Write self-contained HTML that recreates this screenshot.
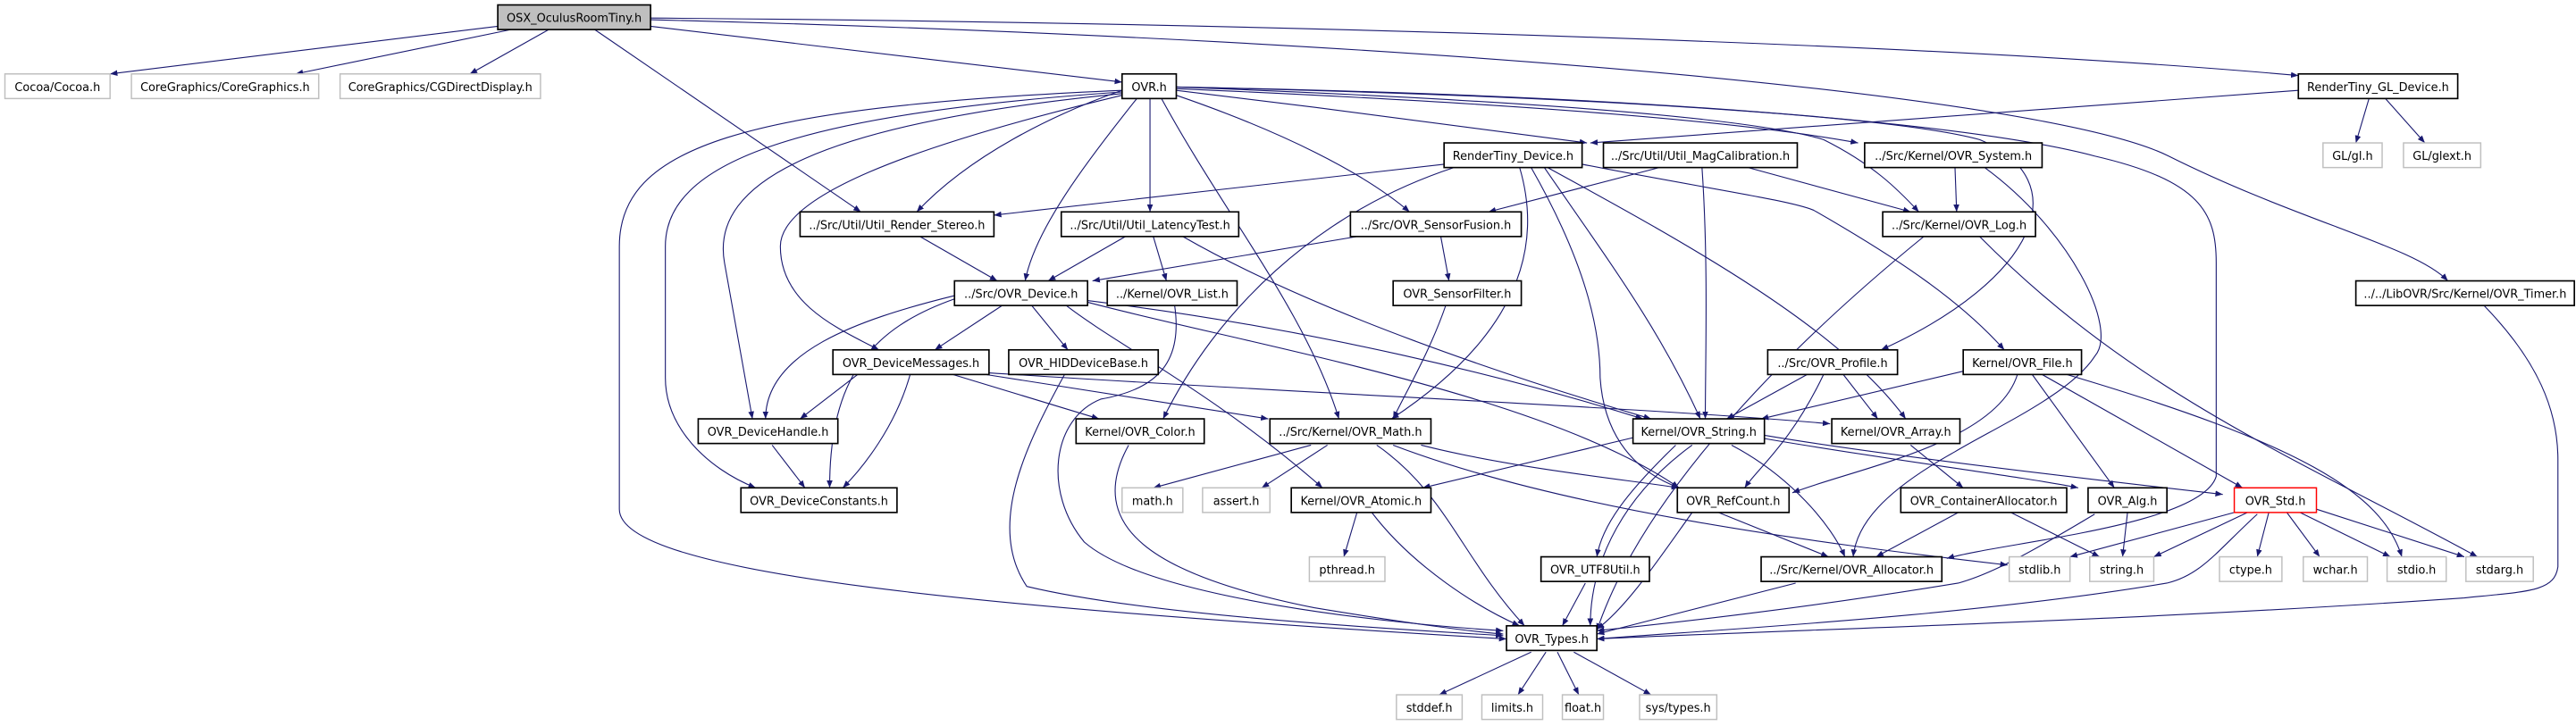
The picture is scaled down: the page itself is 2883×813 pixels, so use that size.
<!DOCTYPE html>
<html><head><meta charset="utf-8"><style>
html,body{margin:0;padding:0;background:#fff;}
svg{display:block;}
text{font-family:"DejaVu Sans","Liberation Sans",sans-serif;font-size:7px;fill:#000;}
.e{fill:none;stroke:#191970;stroke-width:0.6;}
.b{fill:#fff;stroke:#000;stroke-width:0.9;}
.g{fill:#fff;stroke:#bfbfbf;stroke-width:0.8;}
</style></head><body>
<svg width="2883" height="813" viewBox="0 0 1568 442" preserveAspectRatio="none" xmlns="http://www.w3.org/2000/svg">
<defs><marker id="a" markerUnits="userSpaceOnUse" markerWidth="7" markerHeight="7" refX="4.5" refY="1.8" orient="auto"><path d="M0,0 L4.5,1.8 L0,3.6 z" fill="#191970"/></marker></defs>
<g class="e" marker-end="url(#a)">
<path d="M303,16 L67,45"/>
<path d="M311,18 L180,45"/>
<path d="M334,18 L286,45"/>
<path d="M396,16 L683,50"/>
<path d="M396,11 C800,14 1200,28 1399,46"/>
<path d="M396,12 C900,25 1250,60 1320,95 C1400,135 1470,150 1490,171"/>
<path d="M362,18 L524,129"/>
<path d="M683,55 C640,70 590,95 558,129"/>
<path d="M692,60 C660,100 630,140 624,171"/>
<path d="M700,60 L700,129"/>
<path d="M707,60 C745,130 795,190 815,255"/>
<path d="M716,58 C780,80 830,105 858,129"/>
<path d="M716,55 C800,65 900,78 966,87"/>
<path d="M716,54 C900,62 1050,72 1131,87"/>
<path d="M716,53 C900,60 1060,70 1110,85 C1140,100 1155,115 1168,129"/>
<path d="M716,53 C950,58 1150,70 1205,85 C1265,110 1240,170 1145,213"/>
<path d="M716,53 C1000,58 1200,75 1275,95 C1340,110 1349,130 1349,160 L1349,290 C1340,320 1220,330 1185,340"/>
<path d="M683,55 C450,65 377,90 377,150 L377,310 C377,350 600,370 917,389"/>
<path d="M683,56 C480,70 405,100 405,150 L405,230 C405,260 430,285 460,297"/>
<path d="M683,57 C500,75 432,110 441,160 L458,255"/>
<path d="M683,58 C550,90 475,120 475,150 C475,185 510,200 535,213"/>
<path d="M1399,55 L968,87"/>
<path d="M1442,60 L1434,87"/>
<path d="M1452,60 L1476,87"/>
<path d="M879,100 L605,131"/>
<path d="M885,102 C800,130 740,190 708,255"/>
<path d="M925,102 C945,170 900,220 847,255"/>
<path d="M932,102 C965,160 974,200 974,230 C976,260 990,285 1022,297"/>
<path d="M940,102 C980,160 1010,200 1035,255"/>
<path d="M942,102 C1030,150 1120,200 1160,255"/>
<path d="M963,100 C1040,115 1090,122 1104,128 C1160,160 1195,185 1220,213"/>
<path d="M1010,102 L906,129"/>
<path d="M1036,102 C1040,160 1038,220 1038,255"/>
<path d="M1064,102 L1163,129"/>
<path d="M1190,102 L1191,129"/>
<path d="M1208,102 C1260,140 1290,200 1275,217 C1260,240 1215,260 1190,275 C1145,300 1130,320 1128,339"/>
<path d="M1171,144 C1090,210 1000,300 972,384"/>
<path d="M1205,144 C1300,240 1400,280 1508,339"/>
<path d="M1512,186 C1545,220 1557,250 1557,280 L1557,345 C1555,360 1540,360 1500,364 C1300,378 1100,383 972,389"/>
<path d="M560,144 L607,171"/>
<path d="M685,144 L638,171"/>
<path d="M702,144 L710,171"/>
<path d="M720,144 C800,190 920,230 1005,255"/>
<path d="M826,144 L665,171"/>
<path d="M877,144 L882,171"/>
<path d="M610,186 L569,213"/>
<path d="M628,186 L650,213"/>
<path d="M581,180 C520,195 466,215 466,255"/>
<path d="M581,182 C530,200 505,230 505,297"/>
<path d="M649,186 C680,210 740,240 805,297"/>
<path d="M662,184 C760,210 940,240 1022,297"/>
<path d="M662,183 C800,200 920,230 1000,255"/>
<path d="M522,228 L487,255"/>
<path d="M554,228 C545,260 525,285 513,297"/>
<path d="M580,228 L669,255"/>
<path d="M600,228 L772,255"/>
<path d="M602,227 C800,240 1000,248 1114,258"/>
<path d="M470,271 L490,297"/>
<path d="M648,228 C625,270 600,320 625,357 C700,375 850,383 915,387"/>
<path d="M715,186 C720,220 705,237 670,243 C640,255 635,300 660,330 C700,365 850,380 915,384"/>
<path d="M880,186 C870,215 855,240 848,255"/>
<path d="M687,271 C660,320 700,350 800,370 C860,380 900,385 915,386"/>
<path d="M798,271 L702,297"/>
<path d="M808,271 L768,297"/>
<path d="M838,271 C880,300 890,340 928,381"/>
<path d="M848,271 C950,310 1100,330 1222,344"/>
<path d="M865,271 C920,285 990,292 1022,297"/>
<path d="M826,312 L818,339"/>
<path d="M835,312 C860,345 900,370 925,381"/>
<path d="M996,266 L866,297"/>
<path d="M1020,271 C990,300 975,320 972,339"/>
<path d="M1030,271 C990,300 968,340 968,381"/>
<path d="M1074,267 C1150,280 1230,290 1265,297"/>
<path d="M1074,265 C1150,278 1300,295 1353,301"/>
<path d="M1054,271 C1090,290 1115,320 1123,339"/>
<path d="M1163,271 L1195,297"/>
<path d="M1100,228 L1051,255"/>
<path d="M1110,228 C1090,270 1070,285 1062,297"/>
<path d="M1122,228 L1143,255"/>
<path d="M1195,226 L1072,255"/>
<path d="M1228,228 C1215,270 1130,285 1091,300"/>
<path d="M1237,228 L1287,297"/>
<path d="M1243,228 L1365,297"/>
<path d="M1258,228 C1400,270 1450,300 1462,339"/>
<path d="M1046,312 L1113,339"/>
<path d="M1030,312 C1010,340 990,370 972,383"/>
<path d="M1192,312 L1142,339"/>
<path d="M1224,312 L1278,339"/>
<path d="M1295,312 L1292,339"/>
<path d="M1275,313 C1230,340 1210,350 1192,355 C1100,370 1030,378 972,384"/>
<path d="M1360,312 L1260,339"/>
<path d="M1368,312 L1311,339"/>
<path d="M1374,313 C1350,335 1340,350 1319,355 C1200,375 1050,383 972,389"/>
<path d="M1381,312 L1374,339"/>
<path d="M1392,312 L1412,339"/>
<path d="M1400,312 L1455,339"/>
<path d="M1410,310 L1500,339"/>
<path d="M1093,355 L972,386"/>
<path d="M965,355 L951,381"/>
<path d="M932,397 L876,423"/>
<path d="M941,397 L924,423"/>
<path d="M948,397 L961,423"/>
<path d="M958,397 L1005,423"/>
</g>
<g>
<rect x="303" y="3" width="93" height="15" fill="#bfbfbf" stroke="#000" stroke-width="0.9"/>
<text x="349.5" y="13.4" text-anchor="middle">OSX_OculusRoomTiny.h</text>
</g>
<g>
<rect class="g" x="3" y="45" width="64" height="15"/><text x="35" y="55.4" text-anchor="middle">Cocoa/Cocoa.h</text>
<rect class="g" x="80" y="45" width="114" height="15"/><text x="137" y="55.4" text-anchor="middle">CoreGraphics/CoreGraphics.h</text>
<rect class="g" x="207" y="45" width="122" height="15"/><text x="268" y="55.4" text-anchor="middle">CoreGraphics/CGDirectDisplay.h</text>
<rect class="b" x="683" y="45" width="33" height="15"/><text x="699.5" y="55.4" text-anchor="middle">OVR.h</text>
<rect class="b" x="1399" y="45" width="97" height="15"/><text x="1447.5" y="55.4" text-anchor="middle">RenderTiny_GL_Device.h</text>
<rect class="b" x="879" y="87" width="84" height="15"/><text x="921" y="97.4" text-anchor="middle">RenderTiny_Device.h</text>
<rect class="b" x="976" y="87" width="118" height="15"/><text x="1035" y="97.4" text-anchor="middle">../Src/Util/Util_MagCalibration.h</text>
<rect class="b" x="1135" y="87" width="108" height="15"/><text x="1189" y="97.4" text-anchor="middle">../Src/Kernel/OVR_System.h</text>
<rect class="g" x="1414" y="87" width="36" height="15"/><text x="1432" y="97.4" text-anchor="middle">GL/gl.h</text>
<rect class="g" x="1463" y="87" width="47" height="15"/><text x="1486.5" y="97.4" text-anchor="middle">GL/glext.h</text>
<rect class="b" x="487" y="129" width="118" height="15"/><text x="546" y="139.4" text-anchor="middle">../Src/Util/Util_Render_Stereo.h</text>
<rect class="b" x="646" y="129" width="108" height="15"/><text x="700" y="139.4" text-anchor="middle">../Src/Util/Util_LatencyTest.h</text>
<rect class="b" x="822" y="129" width="104" height="15"/><text x="874" y="139.4" text-anchor="middle">../Src/OVR_SensorFusion.h</text>
<rect class="b" x="1146" y="129" width="93" height="15"/><text x="1192.5" y="139.4" text-anchor="middle">../Src/Kernel/OVR_Log.h</text>
<rect class="b" x="581" y="171" width="81" height="15"/><text x="621.5" y="181.4" text-anchor="middle">../Src/OVR_Device.h</text>
<rect class="b" x="674" y="171" width="79" height="15"/><text x="713.5" y="181.4" text-anchor="middle">../Kernel/OVR_List.h</text>
<rect class="b" x="848" y="171" width="78" height="15"/><text x="887" y="181.4" text-anchor="middle">OVR_SensorFilter.h</text>
<rect class="b" x="1434" y="171" width="133" height="15"/><text x="1500.5" y="181.4" text-anchor="middle">../../LibOVR/Src/Kernel/OVR_Timer.h</text>
<rect class="b" x="507" y="213" width="95" height="15"/><text x="554.5" y="223.4" text-anchor="middle">OVR_DeviceMessages.h</text>
<rect class="b" x="614" y="213" width="91" height="15"/><text x="659.5" y="223.4" text-anchor="middle">OVR_HIDDeviceBase.h</text>
<rect class="b" x="1076" y="213" width="79" height="15"/><text x="1115.5" y="223.4" text-anchor="middle">../Src/OVR_Profile.h</text>
<rect class="b" x="1195" y="213" width="72" height="15"/><text x="1231" y="223.4" text-anchor="middle">Kernel/OVR_File.h</text>
<rect class="b" x="425" y="255" width="85" height="15"/><text x="467.5" y="265.4" text-anchor="middle">OVR_DeviceHandle.h</text>
<rect class="b" x="655" y="255" width="78" height="15"/><text x="694" y="265.4" text-anchor="middle">Kernel/OVR_Color.h</text>
<rect class="b" x="773" y="255" width="98" height="15"/><text x="822" y="265.4" text-anchor="middle">../Src/Kernel/OVR_Math.h</text>
<rect class="b" x="994" y="255" width="80" height="15"/><text x="1034" y="265.4" text-anchor="middle">Kernel/OVR_String.h</text>
<rect class="b" x="1115" y="255" width="78" height="15"/><text x="1154" y="265.4" text-anchor="middle">Kernel/OVR_Array.h</text>
<rect class="b" x="451" y="297" width="95" height="15"/><text x="498.5" y="307.4" text-anchor="middle">OVR_DeviceConstants.h</text>
<rect class="g" x="683" y="297" width="37" height="15"/><text x="701.5" y="307.4" text-anchor="middle">math.h</text>
<rect class="g" x="732" y="297" width="41" height="15"/><text x="752.5" y="307.4" text-anchor="middle">assert.h</text>
<rect class="b" x="786" y="297" width="85" height="15"/><text x="828.5" y="307.4" text-anchor="middle">Kernel/OVR_Atomic.h</text>
<rect class="b" x="1021" y="297" width="68" height="15"/><text x="1055" y="307.4" text-anchor="middle">OVR_RefCount.h</text>
<rect class="b" x="1157" y="297" width="101" height="15"/><text x="1207.5" y="307.4" text-anchor="middle">OVR_ContainerAllocator.h</text>
<rect class="b" x="1271" y="297" width="48" height="15"/><text x="1295" y="307.4" text-anchor="middle">OVR_Alg.h</text>
<rect x="1360" y="297" width="50" height="15" fill="#fff" stroke="#ff0000" stroke-width="0.8"/><text x="1385" y="307.4" text-anchor="middle">OVR_Std.h</text>
<rect class="g" x="797" y="339" width="46" height="15"/><text x="820" y="349.4" text-anchor="middle">pthread.h</text>
<rect class="b" x="938" y="339" width="66" height="15"/><text x="971" y="349.4" text-anchor="middle">OVR_UTF8Util.h</text>
<rect class="b" x="1072" y="339" width="110" height="15"/><text x="1127" y="349.4" text-anchor="middle">../Src/Kernel/OVR_Allocator.h</text>
<rect class="g" x="1223" y="339" width="37" height="15"/><text x="1241.5" y="349.4" text-anchor="middle">stdlib.h</text>
<rect class="g" x="1272" y="339" width="39" height="15"/><text x="1291.5" y="349.4" text-anchor="middle">string.h</text>
<rect class="g" x="1351" y="339" width="38" height="15"/><text x="1370" y="349.4" text-anchor="middle">ctype.h</text>
<rect class="g" x="1402" y="339" width="39" height="15"/><text x="1421.5" y="349.4" text-anchor="middle">wchar.h</text>
<rect class="g" x="1453" y="339" width="36" height="15"/><text x="1471" y="349.4" text-anchor="middle">stdio.h</text>
<rect class="g" x="1501" y="339" width="41" height="15"/><text x="1521.5" y="349.4" text-anchor="middle">stdarg.h</text>
<rect class="b" x="917" y="381" width="55" height="15"/><text x="944.5" y="391.4" text-anchor="middle">OVR_Types.h</text>
<rect class="g" x="850" y="423" width="40" height="15"/><text x="870" y="433.4" text-anchor="middle">stddef.h</text>
<rect class="g" x="902" y="423" width="37" height="15"/><text x="920.5" y="433.4" text-anchor="middle">limits.h</text>
<rect class="g" x="951" y="423" width="25" height="15"/><text x="963.5" y="433.4" text-anchor="middle">float.h</text>
<rect class="g" x="998" y="423" width="47" height="15"/><text x="1021.5" y="433.4" text-anchor="middle">sys/types.h</text>
</g>
</svg>
</body></html>
